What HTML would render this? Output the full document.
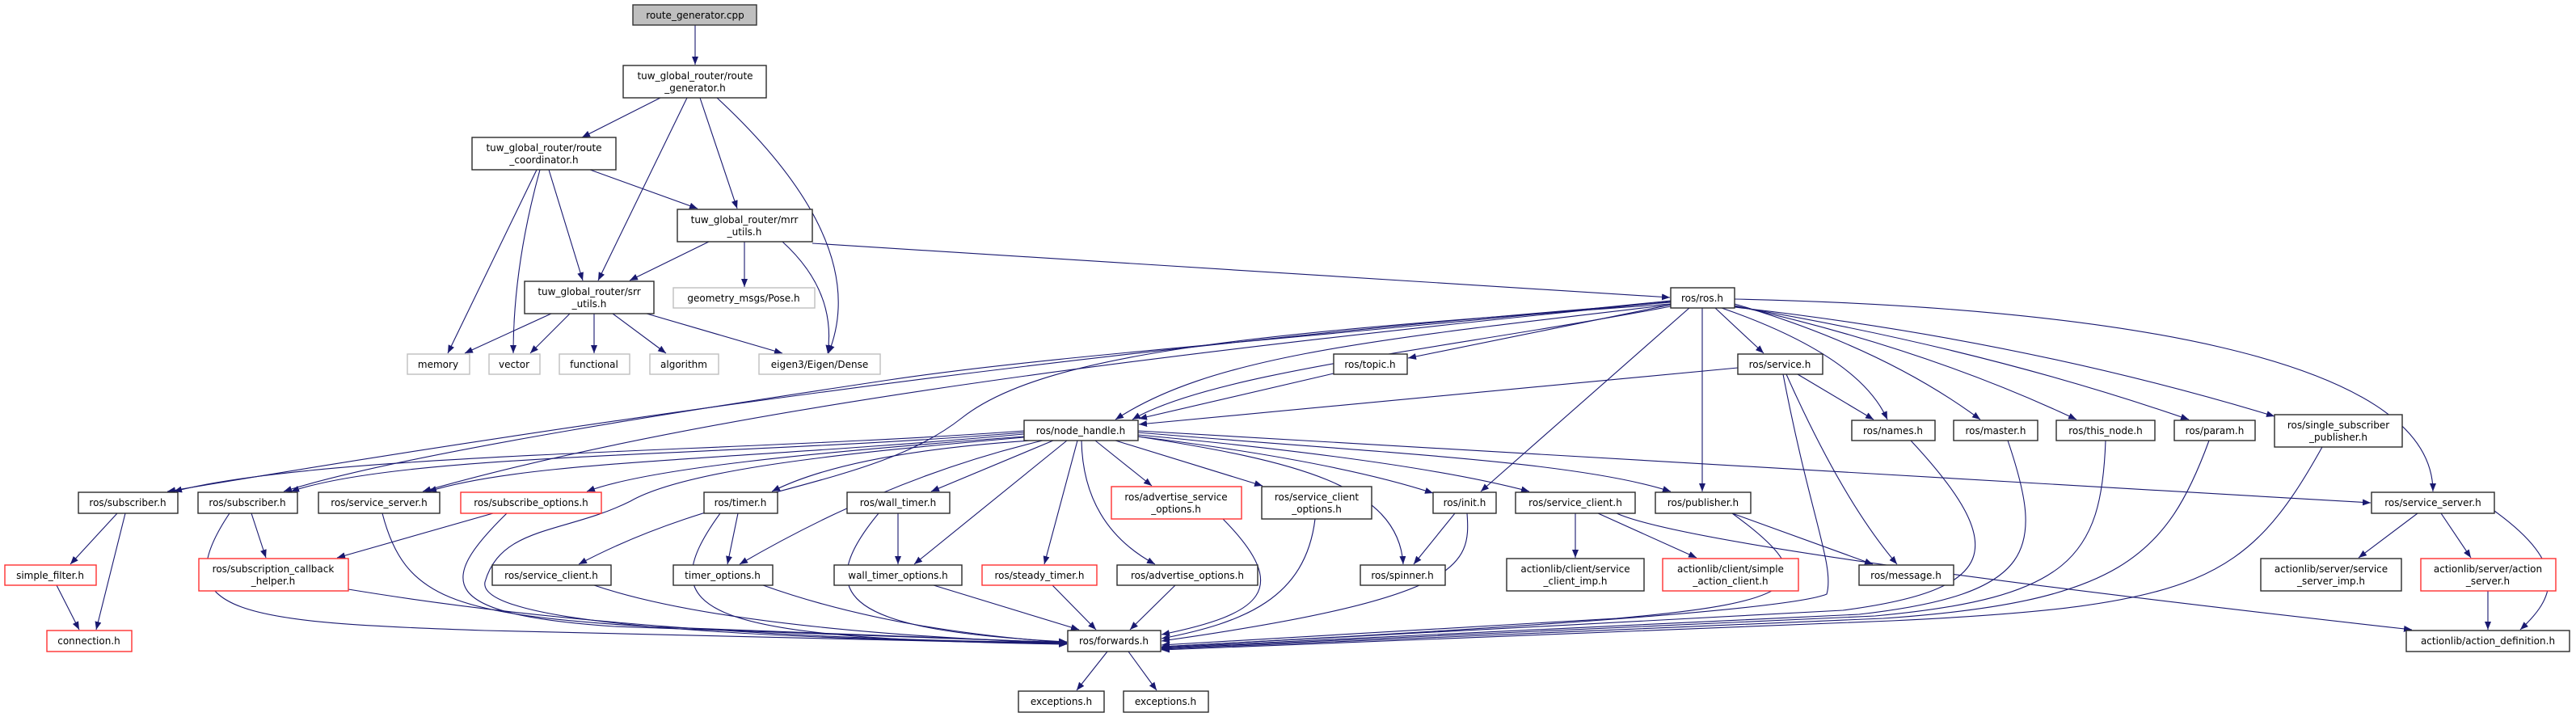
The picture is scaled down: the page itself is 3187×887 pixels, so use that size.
<!DOCTYPE html>
<html><head><meta charset="utf-8">
<style>
html,body{margin:0;padding:0;background:#fff;}
svg{display:block;}
text{font-family:"DejaVu Sans","Liberation Sans",sans-serif;font-size:12px;fill:#000;text-anchor:middle;}
.n{fill:#fff;stroke:#2a2a2a;stroke-width:1.4;}
.r{fill:#fff;stroke:#ff3030;stroke-width:1.4;}
.g{fill:#fff;stroke:#bfbfbf;stroke-width:1.4;}
.e{fill:none;stroke:#191970;stroke-width:1.1;marker-end:url(#a);}
</style></head><body>
<svg width="3187" height="887" viewBox="0 0 3187 887" xmlns="http://www.w3.org/2000/svg">
<defs><marker id="a" markerUnits="userSpaceOnUse" markerWidth="11" markerHeight="8" refX="10" refY="4" orient="auto"><path d="M0,0 L10,4 L0,8 z" fill="#191970"/></marker></defs>
<rect width="3187" height="887" fill="#fff"/>
<g>
<path class="e" d="M860,31 L860,80"/>
<path class="e" d="M817,121 L720,170"/>
<path class="e" d="M850,121 L740,347"/>
<path class="e" d="M866,121 L912,258"/>
<path class="e" d="M887,121 Q1080,300 1025,437"/>
<path class="e" d="M664,210 L554,437"/>
<path class="e" d="M668,210 Q635,330 635,437"/>
<path class="e" d="M679,210 L721,347"/>
<path class="e" d="M730,210 L863,258"/>
<path class="e" d="M877,299 L779,347"/>
<path class="e" d="M921,299 L921,355"/>
<path class="e" d="M968,299 Q1035,360 1024,437"/>
<path class="e" d="M1005,301 Q1500,330 2066,368"/>
<path class="e" d="M682,388 L575,437"/>
<path class="e" d="M705,388 L656,437"/>
<path class="e" d="M735,388 L735,437"/>
<path class="e" d="M758,388 L824,437"/>
<path class="e" d="M800,388 L968,437"/>
<path class="e" d="M2067,374 Q1200,440 207,608"/>
<path class="e" d="M2067,372 C1600,420 1300,440 1100,470 S500,560 351,608"/>
<path class="e" d="M2067,373 C1500,430 900,500 523,608"/>
<path class="e" d="M2067,376 C1600,410 1300,430 1190,517 S900,600 716,698"/>
<path class="e" d="M2067,377 C1700,420 1500,440 1380,519"/>
<path class="e" d="M2067,379 C1800,430 1500,460 1401,519"/>
<path class="e" d="M1650,462 L1409,518"/>
<path class="e" d="M2150,455 L1409,525"/>
<path class="e" d="M2067,377 L1742,443"/>
<path class="e" d="M2090,381 L1832,608"/>
<path class="e" d="M2106,381 L2106,608"/>
<path class="e" d="M2122,381 L2182,437"/>
<path class="e" d="M2130,381 Q2300,440 2335,519"/>
<path class="e" d="M2146,376 Q2330,430 2450,519"/>
<path class="e" d="M2146,378 Q2380,430 2569,519"/>
<path class="e" d="M2146,379 Q2450,430 2708,519"/>
<path class="e" d="M2146,380 Q2500,420 2814,515"/>
<path class="e" d="M2146,370 C2600,380 3010,440 3010,608"/>
<path class="e" d="M1267,533 C900,560 400,560 215,608"/>
<path class="e" d="M1267,535 C900,565 500,560 360,608"/>
<path class="e" d="M1267,537 C900,570 650,570 530,608"/>
<path class="e" d="M1267,540 C1000,560 800,580 726,608"/>
<path class="e" d="M1275,545 Q1050,560 955,608"/>
<path class="e" d="M1290,545 Q1100,590 915,698"/>
<path class="e" d="M1303,545 L1152,608"/>
<path class="e" d="M1320,545 L1131,698"/>
<path class="e" d="M1333,545 L1292,698"/>
<path class="e" d="M1338,545 Q1340,650 1429,698"/>
<path class="e" d="M1355,545 L1425,601"/>
<path class="e" d="M1380,545 L1562,601"/>
<path class="e" d="M1408,540 C1600,570 1730,600 1736,698"/>
<path class="e" d="M1408,540 Q1650,570 1773,610"/>
<path class="e" d="M1408,538 Q1750,570 1892,608"/>
<path class="e" d="M1408,535 C1700,560 1950,570 2067,608"/>
<path class="e" d="M1408,533 Q2100,575 2933,622"/>
<path class="e" d="M1267,541 C1050,560 850,580 780,620 C700,660 620,650 600,720 C590,770 900,790 1320,796"/>
<path class="e" d="M284,635 C200,760 300,770 600,780 L1320,797"/>
<path class="e" d="M431,729 Q800,790 1320,795"/>
<path class="e" d="M473,635 C500,740 560,760 800,775 L1320,795"/>
<path class="e" d="M627,635 C540,720 540,760 760,775 L1320,795"/>
<path class="e" d="M610,635 L417,690"/>
<path class="e" d="M311,635 L329,690"/>
<path class="e" d="M735,724 Q900,780 1320,796"/>
<path class="e" d="M913,635 L900,698"/>
<path class="e" d="M891,635 C800,760 870,790 1320,797"/>
<path class="e" d="M944,724 Q1100,780 1320,795"/>
<path class="e" d="M1111,635 L1111,698"/>
<path class="e" d="M1087,635 C1000,740 1050,780 1320,794"/>
<path class="e" d="M1155,724 L1335,779"/>
<path class="e" d="M1302,724 L1356,779"/>
<path class="e" d="M1454,724 L1398,779"/>
<path class="e" d="M1513,642 C1600,730 1560,760 1437,785"/>
<path class="e" d="M1627,642 C1615,740 1540,770 1437,790"/>
<path class="e" d="M1800,635 L1749,698"/>
<path class="e" d="M1815,635 C1820,700 1810,740 1437,793"/>
<path class="e" d="M1949,635 L1949,690"/>
<path class="e" d="M1977,635 L2099,690"/>
<path class="e" d="M2000,635 Q2100,680 2984,779"/>
<path class="e" d="M2143,635 L2317,698"/>
<path class="e" d="M2143,635 C2260,720 2230,745 2000,765 L1437,798"/>
<path class="e" d="M2224,463 L2318,519"/>
<path class="e" d="M2210,463 Q2280,620 2347,698"/>
<path class="e" d="M2206,463 C2240,640 2270,700 2260,735 Q2200,760 1437,800"/>
<path class="e" d="M2364,545 C2490,680 2470,730 2280,755 L1437,800"/>
<path class="e" d="M2484,545 C2530,680 2520,735 2300,760 L1437,801"/>
<path class="e" d="M2605,545 C2600,690 2560,740 2320,762 L1437,802"/>
<path class="e" d="M2733,545 C2680,690 2620,745 2330,765 L1437,803"/>
<path class="e" d="M2873,553 C2780,720 2720,750 2340,768 L1437,804"/>
<path class="e" d="M2991,635 L2918,690"/>
<path class="e" d="M3020,635 L3057,690"/>
<path class="e" d="M3086,632 C3180,700 3160,740 3118,779"/>
<path class="e" d="M3078,731 L3078,779"/>
<path class="e" d="M145,635 L87,698"/>
<path class="e" d="M155,635 L119,779"/>
<path class="e" d="M70,724 L98,779"/>
<path class="e" d="M1370,806 L1332,854"/>
<path class="e" d="M1396,806 L1431,854"/>
</g>
<g>
<rect x="783" y="6" width="153" height="25" fill="#bfbfbf" stroke="#333" stroke-width="1.4"/><text x="860" y="23">route_generator.cpp</text>
<rect class="n" x="771" y="81" width="177" height="40"/><text x="860" y="98">tuw_global_router/route</text><text x="860" y="113">_generator.h</text>
<rect class="n" x="584" y="170" width="178" height="40"/><text x="673" y="187">tuw_global_router/route</text><text x="673" y="202">_coordinator.h</text>
<rect class="n" x="838" y="259" width="167" height="40"/><text x="921" y="276">tuw_global_router/mrr</text><text x="921" y="291">_utils.h</text>
<rect class="n" x="649" y="348" width="160" height="40"/><text x="729" y="365">tuw_global_router/srr</text><text x="729" y="380">_utils.h</text>
<rect class="g" x="833" y="356" width="175" height="25"/><text x="920" y="373">geometry_msgs/Pose.h</text>
<rect class="g" x="504" y="438" width="77" height="25"/><text x="542" y="455">memory</text>
<rect class="g" x="605" y="438" width="63" height="25"/><text x="636" y="455">vector</text>
<rect class="g" x="692" y="438" width="87" height="25"/><text x="735" y="455">functional</text>
<rect class="g" x="804" y="438" width="85" height="25"/><text x="846" y="455">algorithm</text>
<rect class="g" x="939" y="438" width="150" height="25"/><text x="1014" y="455">eigen3/Eigen/Dense</text>
<rect class="n" x="2067" y="356" width="79" height="25"/><text x="2106" y="373">ros/ros.h</text>
<rect class="n" x="1650" y="438" width="91" height="25"/><text x="1695" y="455">ros/topic.h</text>
<rect class="n" x="2150" y="438" width="105" height="25"/><text x="2202" y="455">ros/service.h</text>
<rect class="n" x="1267" y="520" width="141" height="25"/><text x="1337" y="537">ros/node_handle.h</text>
<rect class="n" x="2291" y="520" width="103" height="25"/><text x="2342" y="537">ros/names.h</text>
<rect class="n" x="2417" y="520" width="104" height="25"/><text x="2469" y="537">ros/master.h</text>
<rect class="n" x="2544" y="520" width="122" height="25"/><text x="2605" y="537">ros/this_node.h</text>
<rect class="n" x="2690" y="520" width="100" height="25"/><text x="2740" y="537">ros/param.h</text>
<rect class="n" x="2814" y="513" width="158" height="40"/><text x="2893" y="530">ros/single_subscriber</text><text x="2893" y="545">_publisher.h</text>
<rect class="n" x="97" y="609" width="123" height="26"/><text x="158" y="626">ros/subscriber.h</text>
<rect class="n" x="245" y="609" width="123" height="26"/><text x="306" y="626">ros/subscriber.h</text>
<rect class="n" x="394" y="609" width="150" height="26"/><text x="469" y="626">ros/service_server.h</text>
<rect class="r" x="570" y="609" width="174" height="26"/><text x="657" y="626">ros/subscribe_options.h</text>
<rect class="n" x="871" y="609" width="91" height="26"/><text x="916" y="626">ros/timer.h</text>
<rect class="n" x="1048" y="609" width="127" height="26"/><text x="1111" y="626">ros/wall_timer.h</text>
<rect class="r" x="1375" y="602" width="161" height="40"/><text x="1455" y="619">ros/advertise_service</text><text x="1455" y="634">_options.h</text>
<rect class="n" x="1561" y="602" width="136" height="40"/><text x="1629" y="619">ros/service_client</text><text x="1629" y="634">_options.h</text>
<rect class="n" x="1773" y="609" width="78" height="26"/><text x="1812" y="626">ros/init.h</text>
<rect class="n" x="1875" y="609" width="148" height="26"/><text x="1949" y="626">ros/service_client.h</text>
<rect class="n" x="2048" y="609" width="118" height="26"/><text x="2107" y="626">ros/publisher.h</text>
<rect class="n" x="2934" y="609" width="152" height="26"/><text x="3010" y="626">ros/service_server.h</text>
<rect class="r" x="6" y="699" width="113" height="25"/><text x="62" y="716">simple_filter.h</text>
<rect class="r" x="246" y="691" width="185" height="40"/><text x="338" y="708">ros/subscription_callback</text><text x="338" y="723">_helper.h</text>
<rect class="n" x="609" y="699" width="147" height="25"/><text x="682" y="716">ros/service_client.h</text>
<rect class="n" x="833" y="699" width="123" height="25"/><text x="894" y="716">timer_options.h</text>
<rect class="n" x="1032" y="699" width="158" height="25"/><text x="1111" y="716">wall_timer_options.h</text>
<rect class="r" x="1215" y="699" width="142" height="25"/><text x="1286" y="716">ros/steady_timer.h</text>
<rect class="n" x="1382" y="699" width="174" height="25"/><text x="1469" y="716">ros/advertise_options.h</text>
<rect class="n" x="1683" y="699" width="105" height="25"/><text x="1735" y="716">ros/spinner.h</text>
<rect class="n" x="1864" y="691" width="170" height="40"/><text x="1949" y="708">actionlib/client/service</text><text x="1949" y="723">_client_imp.h</text>
<rect class="r" x="2057" y="691" width="168" height="40"/><text x="2141" y="708">actionlib/client/simple</text><text x="2141" y="723">_action_client.h</text>
<rect class="n" x="2300" y="699" width="117" height="25"/><text x="2358" y="716">ros/message.h</text>
<rect class="n" x="2797" y="691" width="174" height="40"/><text x="2884" y="708">actionlib/server/service</text><text x="2884" y="723">_server_imp.h</text>
<rect class="r" x="2995" y="691" width="167" height="40"/><text x="3078" y="708">actionlib/server/action</text><text x="3078" y="723">_server.h</text>
<rect class="r" x="58" y="780" width="105" height="26"/><text x="110" y="797">connection.h</text>
<rect class="n" x="1321" y="780" width="115" height="26"/><text x="1378" y="797">ros/forwards.h</text>
<rect class="n" x="2977" y="780" width="202" height="26"/><text x="3078" y="797">actionlib/action_definition.h</text>
<rect class="n" x="1260" y="855" width="106" height="26"/><text x="1313" y="872">exceptions.h</text>
<rect class="n" x="1390" y="855" width="105" height="26"/><text x="1442" y="872">exceptions.h</text>
</g>
</svg>
</body></html>
